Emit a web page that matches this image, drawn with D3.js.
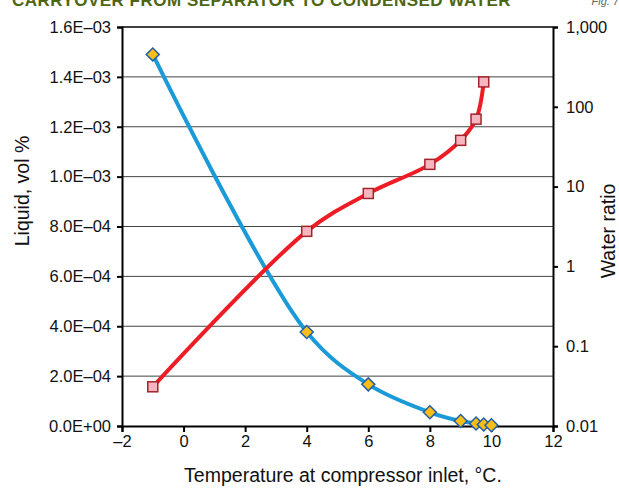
<!DOCTYPE html>
<html>
<head>
<meta charset="utf-8">
<script src="https://cdn.jsdelivr.net/npm/d3@7"></script>
<style>
  body { margin: 0; background: #fff; }
  svg { font-family: "Liberation Sans", Arial, sans-serif; }
</style>
</head>
<body>
<div id="chart"></div>
<script>
// data
temps = [-1, 4, 6, 8, 9, 9.5, 9.75, 10]
liquid = [1.49e-3, 3.77e-4, 1.67e-4, 5.5e-5, 2.0e-5, 1.0e-5, 6e-6, 3e-6]
ratioTemps = [-1, 4, 6, 8, 9, 9.5, 9.75]
waterRatio = [0.031, 2.75, 8.2, 19, 38, 70, 205]
xTicks = [-2, 0, 2, 4, 6, 8, 10, 12]
yTicks = [0, 2e-4, 4e-4, 6e-4, 8e-4, 1e-3, 1.2e-3, 1.4e-3, 1.6e-3]
y2Ticks = [0.01, 0.1, 1, 10, 100, 1000]
y2Labels = ["0.01", "0.1", "1", "10", "100", "1,000"]

margin = {top: 27, right: 66, bottom: 62, left: 122},
  width = 619 - margin.left - margin.right,
  height = 488 - margin.top - margin.bottom;

root = d3.select("#chart")
  .append("svg")
  .attr("width", 619)
  .attr("height", 488)

// title strip, cut at the top edge like the original
root.append("text")
  .attr("x", 511).attr("y", 6)
  .attr("text-anchor", "end")
  .style("font-size", "17px").style("font-weight", "bold")
  .style("fill", "#4f6512")
  .style("letter-spacing", "0.5px")
  .text("CARRYOVER FROM SEPARATOR TO CONDENSED WATER")
root.append("text")
  .attr("x", 619).attr("y", 5)
  .attr("text-anchor", "end")
  .style("font-size", "11px").style("font-style", "italic")
  .style("fill", "#666")
  .text("Fig. 7")

svg = root.append("g")
  .attr("transform", `translate(${margin.left}, ${margin.top})`);

x = d3.scaleLinear().domain([-2, 12]).range([0, width])
y = d3.scaleLinear().domain([0, 1.6e-3]).range([height, 0])
y2 = d3.scaleLog().domain([0.01, 1000]).range([height, 0])

fmtE = d => d === 0 ? "0.0E+00" : d3.format(".1e")(d).replace("e-", "E–0").replace("e+", "E+0")

// gridlines
svg.append("g")
  .selectAll("line")
  .data(yTicks.slice(1, -1))
  .join("line")
    .attr("x1", 0).attr("x2", width)
    .attr("y1", d => y(d)).attr("y2", d => y(d))
    .style("stroke", "#444").style("stroke-width", 1)
svg.append("line")
  .attr("x1", 0).attr("x2", width).attr("y1", 0).attr("y2", 0)
  .style("stroke", "#000").style("stroke-width", 1.5)

// axes
xAxis = svg.append("g")
  .attr("transform", `translate(0, ${height})`)
  .call(d3.axisBottom(x).tickValues(xTicks).tickSize(6).tickPadding(3)
    .tickFormat(d => d < 0 ? "–" + Math.abs(d) : d))
yAxis = svg.append("g")
  .call(d3.axisLeft(y).tickValues(yTicks).tickSize(5).tickPadding(6).tickFormat(fmtE))
y2Axis = svg.append("g")
  .attr("transform", `translate(${width}, 0)`)
  .call(d3.axisRight(y2).tickValues(y2Ticks).tickSize(5).tickPadding(8)
    .tickFormat((d, i) => y2Labels[i]))
for (a of [xAxis, yAxis, y2Axis]) {
  a.selectAll("text").style("font-size", "16.5px").style("fill", "#111")
  a.selectAll("line").style("stroke", "#000").style("stroke-width", 2)
  a.select(".domain").style("stroke", "#000").style("stroke-width", 2)
}

// axis titles
root.append("text")
  .attr("transform", "translate(29, 191) rotate(-90)")
  .attr("text-anchor", "middle")
  .style("font-size", "19.5px").style("fill", "#111")
  .text("Liquid, vol %")
root.append("text")
  .attr("transform", "translate(615, 231) rotate(-90)")
  .attr("text-anchor", "middle")
  .style("font-size", "19.5px").style("fill", "#111")
  .text("Water ratio")
root.append("text")
  .attr("x", 343).attr("y", 482)
  .attr("text-anchor", "middle")
  .style("font-size", "19.5px").style("fill", "#111")
  .text("Temperature at compressor inlet, °C.")

// blue series
blue = temps.map((t, i) => [x(t), y(liquid[i])])
svg.append("path")
  .attr("d", d3.line().curve(d3.curveCatmullRom)(blue))
  .style("fill", "none").style("stroke", "#1b9ad8").style("stroke-width", 4)

// red series
red = ratioTemps.map((t, i) => [x(t), y2(waterRatio[i])])
svg.append("path")
  .attr("d", d3.line().curve(d3.curveCatmullRom)(red))
  .style("fill", "none").style("stroke", "#ee1c25").style("stroke-width", 4)

svg.selectAll(".sq")
  .data(red)
  .join("rect")
    .attr("x", d => d[0] - 5).attr("y", d => d[1] - 5)
    .attr("width", 10).attr("height", 10)
    .style("fill", "#f7b6bf").style("stroke", "#a3232d").style("stroke-width", 1.5)

svg.selectAll(".dm")
  .data(blue)
  .join("path")
    .attr("d", d3.symbol(d3.symbolSquare, 84))
    .attr("transform", d => `translate(${d[0]}, ${d[1]}) rotate(45)`)
    .style("fill", "#f8bd16").style("stroke", "#1f5ea8").style("stroke-width", 1.5)
</script>
</body>
</html>
